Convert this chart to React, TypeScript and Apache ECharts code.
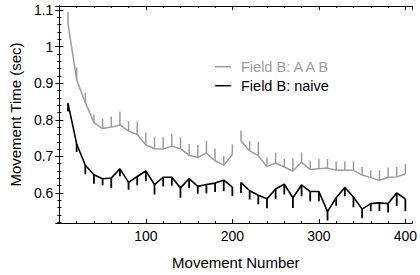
import React, { useEffect, useRef } from "react";
import * as echarts from "echarts";

const movesFirst = [10, 20, 30, 40, 50, 60, 70, 80, 90, 100, 110, 120, 130, 140, 150, 160, 170, 180, 190, 200];
const movesSecond = [210, 220, 230, 240, 250, 260, 270, 280, 290, 300, 310, 320, 330, 340, 350, 360, 370, 380, 390, 400];

const aabFirst = [1.062, 0.909, 0.847, 0.792, 0.776, 0.78, 0.786, 0.769, 0.76, 0.731, 0.721, 0.72, 0.728, 0.721, 0.703, 0.697, 0.709, 0.688, 0.676, 0.705];
const aabSecond = [0.742, 0.715, 0.702, 0.672, 0.682, 0.671, 0.66, 0.684, 0.664, 0.666, 0.668, 0.662, 0.662, 0.662, 0.649, 0.642, 0.635, 0.643, 0.644, 0.652];
const aabErrFirst = [0.033, 0.034, 0.027, 0.022, 0.027, 0.029, 0.036, 0.027, 0.035, 0.034, 0.031, 0.032, 0.033, 0.031, 0.031, 0.035, 0.034, 0.033, 0.024, 0.028];
const aabErrSecond = [0.029, 0.027, 0.037, 0.025, 0.028, 0.022, 0.035, 0.027, 0.024, 0.027, 0.025, 0.024, 0.024, 0.024, 0.022, 0.02, 0.027, 0.027, 0.027, 0.027];

const naiveFirst = [0.845, 0.734, 0.676, 0.65, 0.639, 0.641, 0.666, 0.629, 0.645, 0.66, 0.623, 0.643, 0.643, 0.614, 0.639, 0.618, 0.623, 0.627, 0.635, 0.616];
const naiveSecond = [0.629, 0.606, 0.594, 0.584, 0.611, 0.624, 0.587, 0.622, 0.604, 0.604, 0.549, 0.587, 0.615, 0.589, 0.556, 0.571, 0.573, 0.571, 0.6, 0.584];
const naiveErrFirst = [0.022, 0.022, 0.025, 0.025, 0.018, 0.028, 0.02, 0.02, 0.024, 0.028, 0.027, 0.025, 0.023, 0.027, 0.025, 0.02, 0.024, 0.024, 0.03, 0.024];
const naiveErrSecond = [0.029, 0.024, 0.025, 0.026, 0.028, 0.028, 0.028, 0.031, 0.027, 0.027, 0.024, 0.022, 0.024, 0.028, 0.025, 0.02, 0.022, 0.024, 0.035, 0.033];

const legendNames = ["Field B: A A B", "Field B: naive"];
const xTitle = "Movement Number";
const yTitle = "Movement Time (sec)";

const GRAY = "#9d9d9d";
const BLACK = "#000000";
const FONT = "'Liberation Sans', Arial, Helvetica, sans-serif";

const X_MIN = 0;
const X_MAX = 408;
const Y_MIN = 0.518;
const Y_MAX = 1.111;

function pairs(xs: number[], ys: number[]) {
  return xs.map((x, i) => [x, ys[i]]);
}
function errs(xs: number[], ys: number[], es: number[], dir: number) {
  return xs.map((x, i) => [x, ys[i], ys[i] + dir * es[i]]);
}

export default function App() {
  const ref = useRef<HTMLDivElement>(null);
  useEffect(() => {
    if (!ref.current) return;
    const chart = echarts.init(ref.current, undefined, { renderer: "svg" });

    const errRender = (color: string, width: number) => (params: any, api: any) => {
      const p = api.coord([api.value(0), api.value(1)]);
      const q = api.coord([api.value(0), api.value(2)]);
      return {
        type: "line",
        shape: { x1: p[0], y1: p[1], x2: q[0], y2: q[1] },
        style: { stroke: color, lineWidth: width },
      };
    };

    const lineSeries = (data: number[][], color: string, width: number) => ({
      type: "line",
      data,
      xAxisIndex: 0,
      yAxisIndex: 0,
      showSymbol: false,
      symbol: "none",
      lineStyle: { color, width },
      silent: true,
      z: 3,
    });
    const errSeries = (data: number[][], color: string, width: number) => ({
      type: "custom",
      data,
      xAxisIndex: 0,
      yAxisIndex: 0,
      renderItem: errRender(color, width),
      silent: true,
      z: 2,
    });

    const majorX = (position: string, labels: boolean) => ({
      type: "value",
      position,
      min: X_MIN,
      max: X_MAX,
      splitNumber: 4,
      axisLine: { show: true, lineStyle: { color: "#000", width: 1 } },
      axisTick: { show: true, inside: true, length: 4, lineStyle: { color: "#000" } },
      axisLabel: {
        show: labels,
        showMinLabel: false,
        showMaxLabel: false,
        color: "#000",
        fontFamily: FONT,
        fontSize: 14,
        margin: 6,
      },
      splitLine: { show: false },
      ...(labels
        ? {
            name: xTitle,
            nameLocation: "middle",
            nameGap: 32,
            nameTextStyle: { color: "#000", fontFamily: FONT, fontSize: 15 },
          }
        : {}),
    });
    const minorX = (position: string) => ({
      type: "value",
      position,
      min: X_MIN,
      max: X_MAX,
      splitNumber: 20,
      axisLine: { show: false },
      axisTick: { show: true, inside: true, length: 2, lineStyle: { color: "#000" } },
      axisLabel: { show: false },
      splitLine: { show: false },
    });
    const majorY = (position: string, labels: boolean) => ({
      type: "value",
      position,
      min: Y_MIN,
      max: Y_MAX,
      splitNumber: 6,
      axisLine: { show: true, lineStyle: { color: "#000", width: 1 } },
      axisTick: { show: true, inside: true, length: 4, lineStyle: { color: "#000" } },
      axisLabel: {
        show: labels,
        showMinLabel: false,
        showMaxLabel: false,
        color: "#000",
        fontFamily: FONT,
        fontSize: 14,
        margin: 6,
        formatter: (v: number) => String(Math.round(v * 10) / 10),
      },
      splitLine: { show: false },
      ...(labels
        ? {
            name: yTitle,
            nameLocation: "middle",
            nameGap: 32,
            nameTextStyle: { color: "#000", fontFamily: FONT, fontSize: 15 },
          }
        : {}),
    });
    const minorY = (position: string) => ({
      type: "value",
      position,
      min: Y_MIN,
      max: Y_MAX,
      splitNumber: 30,
      axisLine: { show: false },
      axisTick: { show: true, inside: true, length: 2, lineStyle: { color: "#000" } },
      axisLabel: { show: false },
      splitLine: { show: false },
    });

    const legendY = [66.7, 85.7];
    const legendColors = [GRAY, BLACK];

    chart.setOption({
      animation: false,
      backgroundColor: "#fff",
      grid: { left: 57, right: 3, top: 6, bottom: 46, containLabel: false },
      xAxis: [majorX("bottom", true), minorX("bottom"), majorX("top", false), minorX("top")],
      yAxis: [majorY("left", true), minorY("left"), majorY("right", false), minorY("right")],
      series: [
        errSeries(errs(movesFirst, aabFirst, aabErrFirst, 1), GRAY, 1.5),
        errSeries(errs(movesSecond, aabSecond, aabErrSecond, 1), GRAY, 1.5),
        errSeries(errs(movesFirst, naiveFirst, naiveErrFirst, -1), BLACK, 1.8),
        errSeries(errs(movesSecond, naiveSecond, naiveErrSecond, -1), BLACK, 1.8),
        lineSeries(pairs(movesFirst, aabFirst), GRAY, 1.5),
        lineSeries(pairs(movesSecond, aabSecond), GRAY, 1.5),
        lineSeries(pairs(movesFirst, naiveFirst), BLACK, 1.6),
        lineSeries(pairs(movesSecond, naiveSecond), BLACK, 1.6),
      ],
      graphic: legendNames.flatMap((name, i) => [
        {
          type: "line",
          shape: { x1: 215, y1: legendY[i], x2: 231, y2: legendY[i] },
          style: { stroke: legendColors[i], lineWidth: 1.5 },
          silent: true,
        },
        {
          type: "text",
          x: 241,
          y: legendY[i],
          style: {
            text: name,
            fill: legendColors[i],
            fontFamily: FONT,
            fontSize: 14.5,
            verticalAlign: "middle",
            align: "left",
          },
          silent: true,
        },
      ]),
    });
    return () => chart.dispose();
  }, []);
  return (
    <div
      ref={ref}
      style={{ position: "fixed", left: 0, top: 0, width: 420, height: 275, background: "#fff" }}
    />
  );
}
